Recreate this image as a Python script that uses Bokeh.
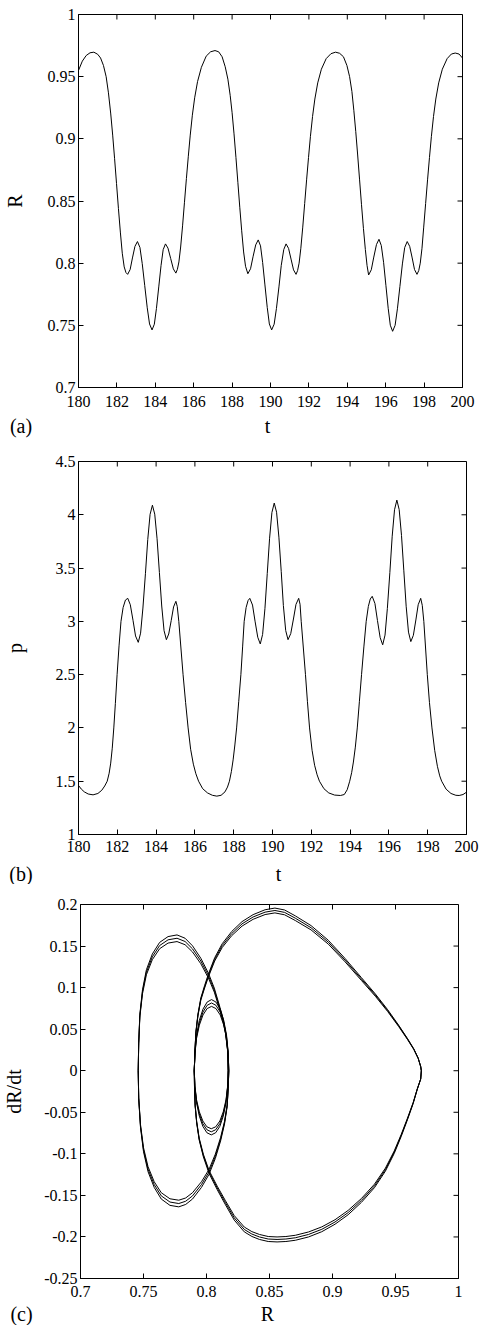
import math
from bokeh.plotting import figure
from bokeh.layouts import column
from bokeh.models import Range1d, FixedTicker
from bokeh.core.properties import value
from bokeh.embed import file_html
from bokeh.resources import INLINE

FONT = "Liberation Serif"

# ---------------- Panel (a): R(t) ----------------
t_a = [180.00, 180.20, 180.40, 180.60, 180.80, 181.00, 181.15, 181.30, 181.44, 181.56,
       181.68, 181.78, 181.88, 181.98, 182.08, 182.18, 182.28, 182.38, 182.47, 182.56,
       182.69, 182.81, 182.94, 183.07,
       183.20, 183.32, 183.45, 183.58, 183.70, 183.83,
       183.95, 184.06, 184.18, 184.30, 184.41, 184.53,
       184.66, 184.80, 184.94, 185.07,
       185.15, 185.23, 185.32, 185.42, 185.52, 185.62, 185.72, 185.82, 185.93, 186.05,
       186.20, 186.40, 186.65, 186.88, 187.11,
       187.30, 187.48, 187.64, 187.78, 187.90, 188.00, 188.10, 188.20, 188.30, 188.40,
       188.50, 188.60, 188.70, 188.82,
       188.96, 189.09, 189.23, 189.36,
       189.48, 189.59, 189.71, 189.83, 189.94, 190.06,
       190.19, 190.31, 190.44, 190.56, 190.69, 190.81,
       190.94, 191.07, 191.20, 191.33,
       191.41, 191.49, 191.58, 191.68, 191.78, 191.88, 191.98, 192.08, 192.19, 192.31,
       192.46, 192.65, 192.90, 193.15, 193.39,
       193.60, 193.80, 193.98, 194.12, 194.24, 194.34, 194.44, 194.54, 194.64, 194.74,
       194.84, 194.94, 195.03, 195.11,
       195.25, 195.38, 195.52, 195.65,
       195.77, 195.89, 196.01, 196.13, 196.24, 196.36,
       196.49, 196.61, 196.74, 196.87, 196.99, 197.12,
       197.25, 197.38, 197.50, 197.63,
       197.72, 197.80, 197.89, 197.98, 198.08, 198.18, 198.28, 198.38, 198.49, 198.61,
       198.76, 198.95, 199.20, 199.42, 199.62, 199.82, 200.00]
R_a = [0.9550, 0.9625, 0.9670, 0.9692, 0.9697, 0.9680, 0.9650, 0.9590, 0.9500, 0.9370,
       0.9200, 0.9030, 0.8840, 0.8640, 0.8440, 0.8250, 0.8080, 0.7970, 0.7925, 0.7910,
       0.7949, 0.8042, 0.8135, 0.8174,
       0.8126, 0.7996, 0.7819, 0.7641, 0.7511, 0.7463,
       0.7509, 0.7636, 0.7809, 0.7982, 0.8109, 0.8155,
       0.8121, 0.8038, 0.7954, 0.7920,
       0.7950, 0.8010, 0.8130, 0.8300, 0.8490, 0.8680, 0.8860, 0.9030, 0.9190, 0.9330,
       0.9460, 0.9575, 0.9665, 0.9700, 0.9710,
       0.9700, 0.9660, 0.9580, 0.9480, 0.9350, 0.9210, 0.9040, 0.8850, 0.8650, 0.8450,
       0.8260, 0.8090, 0.7975, 0.7915,
       0.7955, 0.8051, 0.8147, 0.8187,
       0.8139, 0.8006, 0.7825, 0.7644, 0.7511, 0.7463,
       0.7509, 0.7636, 0.7809, 0.7982, 0.8109, 0.8155,
       0.8119, 0.8033, 0.7946, 0.7910,
       0.7940, 0.8000, 0.8120, 0.8290, 0.8480, 0.8670, 0.8850, 0.9020, 0.9180, 0.9320,
       0.9450, 0.9560, 0.9645, 0.9685, 0.9697,
       0.9688, 0.9660, 0.9590, 0.9500, 0.9380, 0.9230, 0.9060, 0.8870, 0.8670, 0.8470,
       0.8280, 0.8110, 0.7980, 0.7905,
       0.7947, 0.8049, 0.8150, 0.8192,
       0.8142, 0.8007, 0.7822, 0.7637, 0.7501, 0.7452,
       0.7500, 0.7633, 0.7813, 0.7994, 0.8126, 0.8174,
       0.8135, 0.8042, 0.7949, 0.7910,
       0.7940, 0.8000, 0.8120, 0.8290, 0.8480, 0.8670, 0.8850, 0.9020, 0.9180, 0.9320,
       0.9450, 0.9560, 0.9645, 0.9682, 0.9690, 0.9682, 0.9650]

# ---------------- Panel (b): p(t) ----------------
t_b = [180.00, 180.15, 180.30, 180.50, 180.75, 181.00, 181.20, 181.35, 181.48, 181.58,
       181.66, 181.74, 181.82, 181.90, 181.99, 182.09, 182.19, 182.30, 182.42, 182.54,
       182.67, 182.81, 182.94, 183.08,
       183.20, 183.32, 183.45, 183.57, 183.69, 183.81,
       183.93, 184.05, 184.17, 184.29, 184.41, 184.53,
       184.65, 184.78, 184.90, 185.02,
       185.09, 185.17, 185.28, 185.39, 185.52, 185.65, 185.78, 185.92, 186.05, 186.19,
       186.40, 186.65, 186.90, 187.13,
       187.35, 187.55, 187.68, 187.78, 187.88, 187.97, 188.06, 188.15, 188.26, 188.37,
       188.46, 188.54, 188.64, 188.74, 188.83,
       188.97, 189.10, 189.24, 189.37,
       189.49, 189.61, 189.73, 189.85, 189.97, 190.09,
       190.21, 190.33, 190.45, 190.56, 190.68, 190.80,
       190.94, 191.08, 191.21, 191.35,
       191.42, 191.48, 191.59, 191.70, 191.80, 191.91, 192.04, 192.17, 192.30, 192.42,
       192.65, 192.90, 193.20, 193.50,
       193.70, 193.85, 193.98, 194.08, 194.17, 194.27, 194.37, 194.48, 194.59, 194.71,
       194.83, 194.94, 195.04, 195.14,
       195.28, 195.41, 195.55, 195.68,
       195.80, 195.92, 196.05, 196.17, 196.29, 196.41,
       196.53, 196.65, 196.77, 196.89, 197.01, 197.13,
       197.26, 197.39, 197.51, 197.64,
       197.72, 197.80, 197.89, 197.98, 198.09, 198.22, 198.36, 198.50, 198.62, 198.72,
       198.95, 199.20, 199.45, 199.62, 199.82, 200.00]
p_b = [1.460, 1.425, 1.400, 1.380, 1.372, 1.385, 1.415, 1.455, 1.500, 1.575,
       1.670, 1.810, 2.000, 2.230, 2.500, 2.770, 3.000, 3.130, 3.200, 3.216,
       3.156, 3.010, 2.863, 2.803,
       2.889, 3.125, 3.447, 3.768, 4.004, 4.090,
       4.006, 3.775, 3.459, 3.144, 2.913, 2.828,
       2.881, 3.008, 3.135, 3.188,
       3.140, 3.000, 2.750, 2.500, 2.240, 2.000, 1.800, 1.660, 1.570, 1.500,
       1.430, 1.390, 1.368, 1.360,
       1.368, 1.400, 1.445, 1.500, 1.590, 1.700, 1.840, 2.000, 2.250, 2.500,
       2.760, 3.000, 3.130, 3.195, 3.216,
       3.153, 3.002, 2.851, 2.788,
       2.877, 3.119, 3.449, 3.780, 4.022, 4.110,
       4.024, 3.790, 3.469, 3.149, 2.914, 2.828,
       2.885, 3.022, 3.159, 3.216,
       3.160, 3.000, 2.750, 2.500, 2.250, 2.000, 1.790, 1.650, 1.560, 1.500,
       1.430, 1.390, 1.370, 1.366,
       1.375, 1.420, 1.500, 1.580, 1.680, 1.820, 2.000, 2.250, 2.500, 2.760,
       3.000, 3.140, 3.210, 3.235,
       3.168, 3.008, 2.847, 2.780,
       2.871, 3.120, 3.459, 3.799, 4.047, 4.138,
       4.049, 3.806, 3.474, 3.142, 2.899, 2.810,
       2.869, 3.013, 3.156, 3.216,
       3.150, 3.000, 2.750, 2.500, 2.240, 2.000, 1.790, 1.640, 1.550, 1.500,
       1.425, 1.385, 1.368, 1.366, 1.375, 1.397]

# ---------------- Panel (c): phase portrait (R, dR/dt), three periods ----------------
phase_R = [
    # big loop, lower half
    0.9705, 0.9700, 0.9673, 0.9640, 0.9595, 0.9545, 0.9490, 0.9420, 0.9333, 0.9230,
    0.9124, 0.9020, 0.8915, 0.8810, 0.8705, 0.8630, 0.8560, 0.8490, 0.8420, 0.8360,
    0.8300, 0.8220, 0.8151, 0.8085, 0.8020, 0.7975, 0.7942, 0.7922, 0.7910, 0.7905, 0.7903,
    # small loop, upper half
    0.7908, 0.7921, 0.7943, 0.7972, 0.8005, 0.8040, 0.8075, 0.8109, 0.8137, 0.8159,
    0.8172, 0.8177,
    # left loop, lower half
    0.8172, 0.8164, 0.8143, 0.8112, 0.8070, 0.8020, 0.7960, 0.7889, 0.7835, 0.7780,
    0.7710, 0.7641, 0.7585, 0.7536, 0.7500, 0.7476, 0.7462, 0.7458,
    # left loop, upper half
    0.7462, 0.7471, 0.7492, 0.7523, 0.7570, 0.7628, 0.7695, 0.7766, 0.7830, 0.7889,
    0.7955, 0.8015, 0.8062, 0.8099, 0.8130, 0.8151, 0.8168, 0.8172,
    # small loop, lower half
    0.8168, 0.8155, 0.8133, 0.8106, 0.8073, 0.8038, 0.8003, 0.7971, 0.7943, 0.7921,
    0.7908, 0.7903,
    # big loop, upper half
    0.7908, 0.7916, 0.7932, 0.7955, 0.7985, 0.8015, 0.8065, 0.8125, 0.8200, 0.8282,
    0.8370, 0.8465, 0.8543, 0.8620, 0.8705, 0.8830, 0.8967, 0.9100, 0.9229, 0.9340,
    0.9438, 0.9525, 0.9595, 0.9645, 0.9680, 0.9700, 0.9705]

phase_dRdt_1 = [
    0.0, -0.0102, -0.0223, -0.0396, -0.0589, -0.0792, -0.0995, -0.1208, -0.1407, -0.1583,
    -0.1733, -0.1847, -0.1937, -0.2000, -0.2040, -0.2055, -0.2060, -0.2055, -0.2030, -0.1994,
    -0.1939, -0.1797, -0.1614, -0.1431, -0.1235, -0.1035, -0.0835, -0.0629, -0.0426, -0.0213, 0.0,
    0.0222, 0.0428, 0.0605, 0.0741, 0.0826, 0.0856, 0.0826, 0.0741, 0.0605, 0.0428,
    0.0222, 0.0,
    -0.0215, -0.0431, -0.0641, -0.0844, -0.1056, -0.1247, -0.1404, -0.1544, -0.1609, -0.1638,
    -0.1620, -0.1544, -0.1404, -0.1215, -0.0974, -0.0680, -0.0338, 0.0,
    0.0338, 0.0680, 0.0974, 0.1215, 0.1404, 0.1544, 0.1614, 0.1634, 0.1594, 0.1503,
    0.1353, 0.1174, 0.0994, 0.0803, 0.0636, 0.0474, 0.0246, 0.0,
    -0.0200, -0.0386, -0.0546, -0.0669, -0.0746, -0.0772, -0.0746, -0.0669, -0.0546, -0.0386,
    -0.0200, 0.0,
    0.0233, 0.0469, 0.0680, 0.0876, 0.1025, 0.1162, 0.1360, 0.1529, 0.1675, 0.1794,
    0.1878, 0.1937, 0.1957, 0.1934, 0.1863, 0.1746, 0.1569, 0.1350, 0.1121, 0.0924,
    0.0734, 0.0548, 0.0388, 0.0264, 0.0152, 0.0051, 0.0]

phase_dRdt_2 = [
    0.0, -0.0100, -0.0220, -0.0390, -0.0580, -0.0780, -0.0980, -0.1190, -0.1386, -0.1560,
    -0.1707, -0.1820, -0.1908, -0.1970, -0.2010, -0.2025, -0.2030, -0.2025, -0.2000, -0.1965,
    -0.1910, -0.1770, -0.1590, -0.1410, -0.1217, -0.1020, -0.0823, -0.0620, -0.0420, -0.0210, 0.0,
    0.0211, 0.0408, 0.0576, 0.0706, 0.0787, 0.0815, 0.0787, 0.0706, 0.0576, 0.0408,
    0.0211, 0.0,
    -0.0210, -0.0420, -0.0625, -0.0823, -0.1030, -0.1217, -0.1370, -0.1506, -0.1570, -0.1598,
    -0.1580, -0.1506, -0.1370, -0.1185, -0.0950, -0.0663, -0.0330, 0.0,
    0.0330, 0.0663, 0.0950, 0.1185, 0.1370, 0.1506, 0.1575, 0.1594, 0.1555, 0.1466,
    0.1320, 0.1145, 0.0970, 0.0783, 0.0620, 0.0462, 0.0240, 0.0,
    -0.0190, -0.0368, -0.0520, -0.0637, -0.0710, -0.0735, -0.0710, -0.0637, -0.0520, -0.0368,
    -0.0190, 0.0,
    0.0230, 0.0462, 0.0670, 0.0863, 0.1010, 0.1145, 0.1340, 0.1506, 0.1650, 0.1767,
    0.1850, 0.1908, 0.1928, 0.1905, 0.1835, 0.1720, 0.1546, 0.1330, 0.1104, 0.0910,
    0.0723, 0.0540, 0.0382, 0.0260, 0.0150, 0.0050, 0.0]

phase_dRdt_3 = [
    0.0, -0.0099, -0.0217, -0.0384, -0.0571, -0.0768, -0.0965, -0.1172, -0.1365, -0.1537,
    -0.1681, -0.1793, -0.1879, -0.1940, -0.1980, -0.1995, -0.2000, -0.1995, -0.1970, -0.1936,
    -0.1881, -0.1743, -0.1566, -0.1389, -0.1199, -0.1005, -0.0811, -0.0611, -0.0414, -0.0207, 0.0,
    0.0200, 0.0388, 0.0547, 0.0671, 0.0748, 0.0774, 0.0748, 0.0671, 0.0547, 0.0388,
    0.0200, 0.0,
    -0.0205, -0.0410, -0.0609, -0.0802, -0.1004, -0.1187, -0.1336, -0.1468, -0.1531, -0.1558,
    -0.1541, -0.1468, -0.1336, -0.1155, -0.0926, -0.0646, -0.0322, 0.0,
    0.0322, 0.0646, 0.0926, 0.1155, 0.1336, 0.1468, 0.1536, 0.1554, 0.1516, 0.1429,
    0.1287, 0.1116, 0.0946, 0.0763, 0.0605, 0.0450, 0.0234, 0.0,
    -0.0181, -0.0350, -0.0494, -0.0605, -0.0675, -0.0698, -0.0675, -0.0605, -0.0494, -0.0350,
    -0.0181, 0.0,
    0.0227, 0.0455, 0.0660, 0.0850, 0.0995, 0.1128, 0.1320, 0.1483, 0.1625, 0.1740,
    0.1822, 0.1879, 0.1899, 0.1876, 0.1807, 0.1694, 0.1523, 0.1310, 0.1087, 0.0896,
    0.0712, 0.0532, 0.0376, 0.0256, 0.0148, 0.0049, 0.0]

# ---------------- Ticks ----------------
t_ticks = [180, 182, 184, 186, 188, 190, 192, 194, 196, 198, 200]
t_tick_labels = ["180", "182", "184", "186", "188", "190", "192", "194", "196", "198", "200"]
R_ticks = [0.7, 0.75, 0.8, 0.85, 0.9, 0.95, 1.0]
R_tick_labels = ["0.7", "0.75", "0.8", "0.85", "0.9", "0.95", "1"]
p_ticks = [1.0, 1.5, 2.0, 2.5, 3.0, 3.5, 4.0, 4.5]
p_tick_labels = ["1", "1.5", "2", "2.5", "3", "3.5", "4", "4.5"]
dR_ticks = [-0.25, -0.2, -0.15, -0.1, -0.05, 0.0, 0.05, 0.1, 0.15, 0.2]
dR_tick_labels = ["-0.25", "-0.2", "-0.15", "-0.1", "-0.05", "0", "0.05", "0.1", "0.15", "0.2"]

W = 480


def no_align(p):
    # keep each panel's plot frame where it is set, not aligned across the column
    if "frame_align" in p.properties():
        p.frame_align = False


def style_axis(ax, ticks, labels):
    ax.ticker = FixedTicker(ticks=ticks)
    ax.major_label_overrides = dict(zip(ticks, labels))
    ax.major_tick_in = 5
    ax.major_tick_out = 0
    ax.minor_tick_line_color = None
    ax.axis_line_color = "black"
    ax.major_tick_line_color = "black"
    ax.major_label_text_font = FONT
    ax.major_label_text_color = "black"
    ax.major_label_text_font_size = "16px"
    ax.axis_label_text_font = FONT
    ax.axis_label_text_font_style = "normal"
    ax.axis_label_text_font_size = "20px"
    ax.axis_label_text_color = "black"


def make_fig(height, mb, xr, yr, xt, xl, yt, yl, ylabel, x_standoff, y_standoffs):
    p = figure(width=W, height=height, output_backend="svg", toolbar_location=None,
               x_range=Range1d(*xr), y_range=Range1d(*yr),
               min_border_left=mb[0], min_border_right=mb[1],
               min_border_top=mb[2], min_border_bottom=mb[3])
    no_align(p)
    p.xgrid.grid_line_color = None
    p.ygrid.grid_line_color = None
    p.outline_line_color = "black"
    p.outline_line_alpha = 1.0
    p.background_fill_color = "white"
    p.border_fill_color = "white"
    style_axis(p.xaxis[0], xt, xl)
    style_axis(p.yaxis[0], yt, yl)
    p.yaxis[0].axis_label = ylabel
    p.xaxis[0].major_label_standoff = x_standoff
    p.yaxis[0].major_label_standoff = y_standoffs[0]
    p.yaxis[0].axis_label_standoff = y_standoffs[1]
    # mirrored inward ticks on the top and right edges
    p.ray(x=xt, y=yr[1], length=5, length_units="screen", angle=-math.pi / 2,
          line_color="black", line_width=1)
    p.ray(x=xr[1], y=yt, length=5, length_units="screen", angle=math.pi,
          line_color="black", line_width=1)
    return p


def make_strip(height, texts, xs, y):
    s = figure(width=W, height=height, output_backend="svg", toolbar_location=None,
               x_range=Range1d(0, W), y_range=Range1d(0, height),
               x_axis_type=None, y_axis_type=None, min_border=0,
               min_border_left=0, min_border_right=0, min_border_top=0, min_border_bottom=0)
    no_align(s)
    s.outline_line_color = None
    s.background_fill_color = "white"
    s.border_fill_color = "white"
    s.text(x=xs, y=[y] * len(xs), text=texts, text_font=value(FONT),
           text_font_size="20px", text_color="black",
           text_align="center", text_baseline="middle")
    return s


# Panel (a): frame x 73..462, y 14..387
pa = make_fig(414, (73, 18, 14, 27), (180, 200), (0.7, 1.0),
              t_ticks, t_tick_labels, R_ticks, R_tick_labels, "R", 8, (3, 19))
pa.line(t_a, R_a, line_color="black", line_width=1)
sa = make_strip(26, ["(a)", "t"], [20.5, 267], 15)

# Panel (b): frame x 73..466, y 461..834
pb = make_fig(420, (73, 14, 21, 26), (180, 200), (1.0, 4.5),
              t_ticks, t_tick_labels, p_ticks, p_tick_labels, "p", 6, (3, 27))
pb.line(t_b, p_b, line_color="black", line_width=1)
sb = make_strip(24, ["(b)", "t"], [20.5, 278], 11)

# Panel (c): frame x 76..458, y 904..1278
pc = make_fig(420, (76, 22, 20, 26), (0.7, 1.0), (-0.25, 0.2),
              R_ticks, R_tick_labels, dR_ticks, dR_tick_labels, "dR/dt", 7, (3, 16))
for v in (phase_dRdt_1, phase_dRdt_2, phase_dRdt_3):
    pc.line(phase_R, v, line_color="black", line_width=1)
sc = make_strip(21, ["(c)", "R"], [21, 267], 12)

layout = column(pa, sa, pb, sb, pc, sc, spacing=0)
open("out.html", "w").write(file_html(layout, INLINE))
